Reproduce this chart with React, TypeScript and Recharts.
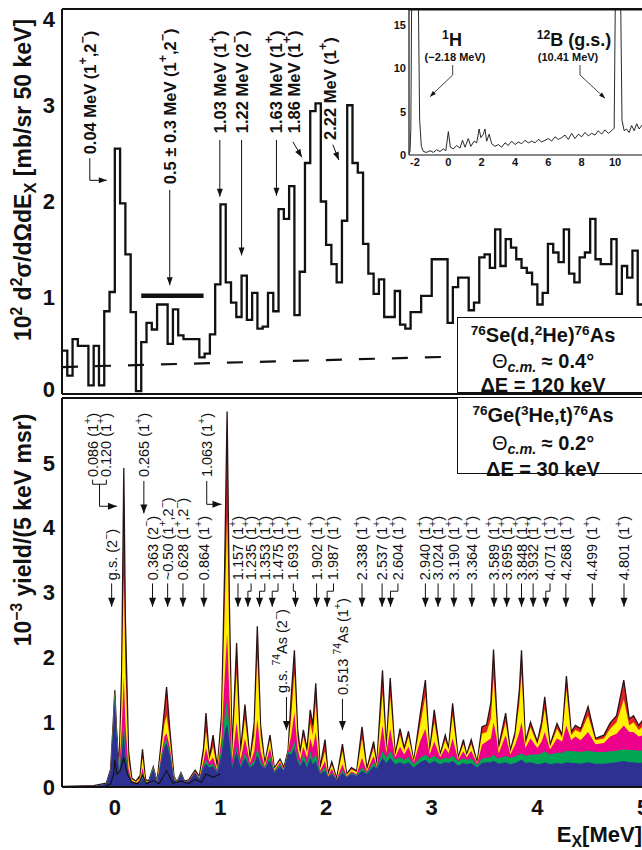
import React from "react";
import {
  ComposedChart,
  LineChart,
  Line,
  Area,
  XAxis,
  YAxis,
  ReferenceLine,
  ReferenceDot,
} from "recharts";

const FONT = "'Liberation Sans', Arial, Helvetica, sans-serif";
const INK = "#111";

// ---------- upper panel: 76Se(d,2He)76As, 50 keV bins starting at -0.5 MeV
const binStart = -0.5;
const binWidth = 0.05;
const dheCounts = [
  0.45, 0.19, 0.57, 0.5, 0.5, 0.09, 0.5, 0.09, 0.86, 1.06,
  2.55, 1.98, 1.45, 0.85, 0.03, 0.54, 0.74, 0.67, 0.93, 0.93,
  0.52, 0.88, 0.61, 0.57, 0.57, 0.57, 0.38, 0.42, 0.62, 1.14,
  1.97, 1.16, 0.95, 0.8, 1.23, 0.77, 1.05, 0.68, 0.7, 1.05,
  0.86, 1.92, 1.82, 2.16, 0.82, 1.27, 2.4, 2.94, 3.02, 2.0,
  1.55, 1.35, 1.16, 1.8, 3.0, 2.4, 2.3, 1.56, 1.25, 1.04,
  1.19, 0.8, 0.8, 1.07, 0.72, 0.68, 0.85, 0.85, 1.02, 1.02,
  1.4, 1.4, 1.4, 0.74, 1.11, 1.21, 1.21, 0.87, 0.95, 1.42,
  1.45, 1.31, 1.71, 1.33, 1.61, 1.52, 1.4, 1.31, 1.26, 1.14,
  0.93, 1.05, 1.56, 1.47, 1.37, 1.71, 1.25, 1.16, 1.42, 1.47,
  1.82, 1.4, 1.35, 1.35, 1.61, 1.04, 1.33, 1.21, 1.49, 0.93,
];
const bgEnergy = [-0.5, 5.0];
const bgLevel = [0.28, 0.44];
const broadEnergy = [0.25, 0.84];
const broadLevel = [1.02, 1.02];

// ---------- inset: wide-range (d,2He) spectrum
const insetEnergy = [
  -2.36, -2.3, -2.25, -2.2, -1.8, -1.72, -1.62, -1.5, -1.3, -1.1,
  -0.9, -0.7, -0.5, -0.3, -0.15, 0, 0.12, 0.3, 0.5, 0.7,
  0.85, 1, 1.2, 1.35, 1.55, 1.7, 1.85, 1.95, 2.1, 2.2,
  2.3, 2.45, 2.6, 2.8, 3, 3.2, 3.4, 3.6, 3.8, 4,
  4.2, 4.4, 4.6, 4.8, 5, 5.2, 5.4, 5.6, 5.8, 6,
  6.2, 6.4, 6.6, 6.8, 7, 7.2, 7.4, 7.6, 7.8, 8,
  8.2, 8.4, 8.6, 8.8, 9, 9.2, 9.4, 9.6, 9.8, 9.95,
  10.02, 10.34, 10.42, 10.55, 10.7, 10.85, 11, 11.15, 11.3, 11.45,
  11.6, 11.75,
];
const insetCounts = [
  0.2, 0.4, 3, 18, 18, 4, 1.0, 0.4, 0.3, 0.5,
  0.3, 0.6, 0.4, 0.7, 0.5, 2.7, 0.9, 0.7, 1.1, 0.8,
  1.7, 0.9, 1.9, 1.0, 1.6, 1.4, 3.0, 2.0, 2.4, 3.0,
  1.6, 2.4, 1.3, 1.0, 1.2, 0.9, 1.4, 1.1, 1.6, 1.2,
  1.5, 1.3, 1.7, 1.4, 1.6, 1.4, 1.8, 1.5, 1.7, 1.9,
  1.6, 2.1, 1.8, 2.0, 2.3, 1.8, 2.5, 1.9, 2.4, 2.1,
  2.6, 2.2, 2.5, 2.3, 2.8, 2.4, 2.9, 2.5, 2.8, 3.1,
  18, 18, 4, 2.8, 3.0, 2.6, 3.4, 2.8, 3.6, 3.0,
  3.4, 3.1,
];

// ---------- lower panel: 76Ge(3He,t)76As, cumulative tops of the coloured layers
const tritonEnergy = [
  -0.5, -0.2, -0.08, -0.04, -0.015, 0, 0.015, 0.04, 0.065, 0.085,
  0.1, 0.13, 0.16, 0.2, 0.24, 0.262, 0.29, 0.32, 0.364, 0.4,
  0.44, 0.47, 0.49, 0.52, 0.56, 0.59, 0.626, 0.66, 0.7, 0.76,
  0.8, 0.84, 0.863, 0.895, 0.93, 0.97, 1.01, 1.04, 1.063, 1.085,
  1.11, 1.153, 1.19, 1.232, 1.28, 1.32, 1.349, 1.38, 1.42, 1.469,
  1.51, 1.564, 1.6, 1.64, 1.67, 1.7, 1.73, 1.755, 1.785, 1.82,
  1.85, 1.875, 1.902, 1.943, 1.99, 2.02, 2.054, 2.1, 2.155, 2.195,
  2.24, 2.29, 2.34, 2.386, 2.45, 2.48, 2.534, 2.57, 2.607, 2.654,
  2.7, 2.74, 2.78, 2.83, 2.89, 2.94, 2.98, 3.024, 3.08, 3.128,
  3.16, 3.198, 3.25, 3.3, 3.33, 3.374, 3.43, 3.476, 3.52, 3.56,
  3.585, 3.61, 3.633, 3.7, 3.744, 3.79, 3.83, 3.85, 3.887, 3.935,
  4.0, 4.04, 4.07, 4.12, 4.186, 4.234, 4.275, 4.32, 4.36, 4.41,
  4.48, 4.55, 4.63, 4.69, 4.75, 4.818, 4.87, 4.91, 4.96, 5.05,
];
const blueTop = [
  0, 0.01, 0.05, 0.25, 0.95, 1.36, 0.85, 0.22, 0.5, 0.85,
  0.5, 0.18, 0.08, 0.06, 0.07, 0.14, 0.06, 0.08, 0.28, 0.06,
  0.4, 0.62, 0.67, 0.5, 0.12, 0.07, 0.21, 0.08, 0.09, 0.22,
  0.12, 0.3, 0.36, 0.3, 0.32, 0.22, 0.5, 0.85, 0.98, 0.7,
  0.3, 0.55, 0.3, 0.45, 0.3, 0.35, 0.5, 0.35, 0.28, 0.42,
  0.22, 0.32, 0.25, 0.52, 0.5, 0.6, 0.4, 0.32, 0.42, 0.3,
  0.45, 0.35, 0.4, 0.2, 0.25, 0.15, 0.2, 0.11, 0.22, 0.15,
  0.2, 0.17, 0.25, 0.2, 0.32, 0.28, 0.45, 0.37, 0.45, 0.35,
  0.38, 0.35, 0.38, 0.3, 0.38, 0.42, 0.36, 0.4, 0.35, 0.38,
  0.37, 0.4, 0.33, 0.37, 0.35, 0.37, 0.3, 0.37, 0.38, 0.38,
  0.4, 0.38, 0.36, 0.38, 0.35, 0.37, 0.4, 0.42, 0.37, 0.38,
  0.35, 0.36, 0.38, 0.35, 0.37, 0.36, 0.38, 0.37, 0.37, 0.36,
  0.38, 0.36, 0.36, 0.37, 0.38, 0.4, 0.38, 0.38, 0.37, 0.38,
];
const greenTop = [
  0, 0.01, 0.05, 0.26, 1.0, 1.47, 0.9, 0.24, 0.6, 1.0,
  0.6, 0.2, 0.09, 0.06, 0.08, 0.2, 0.07, 0.08, 0.31, 0.06,
  0.44, 0.68, 0.73, 0.55, 0.13, 0.07, 0.22, 0.08, 0.09, 0.22,
  0.13, 0.33, 0.42, 0.33, 0.36, 0.24, 0.6, 1.1, 1.34, 0.9,
  0.34, 0.62, 0.34, 0.52, 0.33, 0.4, 0.6, 0.4, 0.3, 0.48,
  0.24, 0.35, 0.26, 0.54, 0.55, 0.7, 0.45, 0.35, 0.5, 0.36,
  0.55, 0.42, 0.52, 0.22, 0.3, 0.16, 0.22, 0.11, 0.26, 0.16,
  0.22, 0.18, 0.3, 0.22, 0.38, 0.3, 0.55, 0.45, 0.55, 0.42,
  0.46, 0.42, 0.46, 0.35, 0.45, 0.5, 0.44, 0.48, 0.42, 0.45,
  0.44, 0.48, 0.4, 0.44, 0.42, 0.44, 0.34, 0.44, 0.45, 0.46,
  0.5, 0.46, 0.44, 0.48, 0.45, 0.47, 0.5, 0.52, 0.48, 0.5,
  0.5, 0.52, 0.55, 0.5, 0.53, 0.53, 0.56, 0.55, 0.55, 0.54,
  0.56, 0.54, 0.54, 0.55, 0.56, 0.58, 0.57, 0.57, 0.56, 0.57,
];
const pinkTop = [
  0, 0.01, 0.05, 0.26, 1.0, 1.48, 0.9, 0.25, 0.9, 1.7,
  1.0, 0.28, 0.1, 0.07, 0.1, 0.3, 0.08, 0.08, 0.31, 0.07,
  0.5, 0.78, 0.83, 0.62, 0.14, 0.07, 0.22, 0.08, 0.1, 0.23,
  0.14, 0.4, 0.6, 0.38, 0.46, 0.26, 0.75, 1.7, 2.37, 1.4,
  0.42, 1.0, 0.42, 0.75, 0.37, 0.55, 1.05, 0.55, 0.32, 0.6,
  0.26, 0.38, 0.27, 0.55, 0.8, 1.15, 0.6, 0.42, 0.62, 0.45,
  0.75, 0.6, 0.85, 0.25, 0.4, 0.17, 0.28, 0.12, 0.35, 0.17,
  0.24, 0.2, 0.45, 0.24, 0.48, 0.32, 0.95, 0.52, 0.9, 0.46,
  0.62, 0.5, 0.62, 0.38, 0.7, 0.9, 0.5, 0.7, 0.46, 0.6,
  0.52, 0.75, 0.42, 0.55, 0.46, 0.56, 0.36, 0.65, 0.7, 0.75,
  1.0, 0.8, 0.52, 0.8, 0.5, 0.65, 0.85, 1.0, 0.6, 0.75,
  0.6, 0.7, 0.85, 0.58, 0.75, 0.7, 0.95, 0.72, 0.78, 0.72,
  0.85, 0.66, 0.68, 0.78, 0.82, 0.95, 0.85, 0.85, 0.78, 0.82,
];
const yellowTop = [
  0, 0.01, 0.05, 0.26, 1.0, 1.48, 0.9, 0.26, 1.4, 3.25,
  1.8, 0.4, 0.12, 0.08, 0.14, 0.45, 0.1, 0.08, 0.31, 0.08,
  0.6, 0.98, 1.1, 0.75, 0.15, 0.08, 0.22, 0.09, 0.1, 0.24,
  0.15, 0.5, 0.86, 0.42, 0.62, 0.28, 0.95, 2.7, 4.17, 2.2,
  0.5, 1.75, 0.5, 1.05, 0.4, 0.8, 2.0, 0.8, 0.35, 0.72,
  0.28, 0.41, 0.28, 0.55, 1.1, 1.75, 0.75, 0.5, 0.78, 0.52,
  0.98, 0.8, 1.3, 0.28, 0.55, 0.19, 0.34, 0.12, 0.55, 0.19,
  0.27, 0.23, 0.75, 0.26, 0.6, 0.34, 1.45, 0.57, 1.4, 0.49,
  0.8, 0.56, 0.78, 0.4, 0.95, 1.4, 0.54, 1.0, 0.49, 0.72,
  0.58, 1.1, 0.44, 0.66, 0.49, 0.66, 0.37, 0.82, 0.85, 1.05,
  1.7, 1.1, 0.58, 1.0, 0.54, 0.78, 1.3, 1.75, 0.66, 0.92,
  0.66, 0.9, 1.2, 0.62, 0.9, 0.76, 1.5, 0.8, 0.88, 0.84,
  1.1, 0.72, 0.75, 0.9, 1.0, 1.35, 0.95, 1.0, 0.88, 1.0,
];
const totalTop = [
  0.01, 0.02, 0.06, 0.27, 1.0, 1.49, 0.92, 0.27, 1.8, 4.92,
  2.6, 0.55, 0.14, 0.09, 0.18, 0.58, 0.12, 0.09, 0.31, 0.08,
  0.7, 1.2, 1.54, 0.9, 0.16, 0.08, 0.22, 0.09, 0.11, 0.26,
  0.16, 0.6, 1.14, 0.45, 0.8, 0.3, 1.1, 3.4, 5.79, 2.8,
  0.55, 2.22, 0.55, 1.27, 0.42, 1.0, 2.48, 0.95, 0.36, 0.8,
  0.29, 0.43, 0.3, 0.56, 1.4, 2.11, 0.9, 0.55, 0.88, 0.58,
  1.19, 0.95, 1.6, 0.3, 0.73, 0.2, 0.39, 0.13, 0.66, 0.2,
  0.3, 0.25, 0.93, 0.28, 0.7, 0.35, 1.8, 0.6, 1.68, 0.5,
  0.9, 0.6, 0.86, 0.4, 1.11, 1.65, 0.55, 1.19, 0.5, 0.8,
  0.6, 1.29, 0.45, 0.73, 0.5, 0.73, 0.38, 0.93, 0.96, 1.3,
  2.12, 1.3, 0.62, 1.14, 0.56, 0.85, 1.5, 2.11, 0.7, 1.0,
  0.7, 1.0, 1.39, 0.65, 0.98, 0.8, 1.71, 0.85, 0.95, 0.9,
  1.24, 0.75, 0.8, 0.99, 1.1, 1.65, 1.05, 1.1, 0.95, 1.15,
];
// thin black comparison spectrum drawn over the blue layer at low Ex
const innerEnergy = [-0.1, -0.04, -0.01, 0, 0.02, 0.05, 0.085, 0.12, 0.16, 0.22, 0.262, 0.3, 0.364, 0.42, 0.49, 0.55, 0.626, 0.7, 0.76, 0.82, 0.863, 0.93, 1.0];
const innerLevel = [0, 0.05, 0.2, 0.42, 0.2, 0.25, 0.45, 0.2, 0.07, 0.05, 0.18, 0.05, 0.1, 0.05, 0.25, 0.06, 0.09, 0.05, 0.12, 0.07, 0.2, 0.15, 0.2];

// ---------- ticks
const upperXMinor = [-0.4, -0.2, 0, 0.2, 0.4, 0.6, 0.8, 1, 1.2, 1.4, 1.6, 1.8, 2, 2.2, 2.4, 2.6, 2.8, 3, 3.2, 3.4, 3.6, 3.8, 4, 4.2, 4.4, 4.6, 4.8];
const upperYMajor = [0, 1, 2, 3, 4];
const upperYMinor = [0.2, 0.4, 0.6, 0.8, 1.2, 1.4, 1.6, 1.8, 2.2, 2.4, 2.6, 2.8, 3.2, 3.4, 3.6, 3.8];
const lowerXLabels = [0, 1, 2, 3, 4, 5];
const lowerXMinor = [-0.5, 0, 0.5, 1, 1.5, 2, 2.5, 3, 3.5, 4, 4.5];
const lowerYMajor = [0, 1, 2, 3, 4, 5];
const insetXLabels = [-2, 0, 2, 4, 6, 8, 10];
const insetXMinor = [-2, -1.5, -1, -0.5, 0, 0.5, 1, 1.5, 2, 2.5, 3, 3.5, 4, 4.5, 5, 5.5, 6, 6.5, 7, 7.5, 8, 8.5, 9, 9.5, 10, 10.5, 11, 11.5];
const insetYTicks = [0, 5, 10, 15];

// ---------- annotations (text with ^sup^ markers, anchored at the text's lower end)
const upperLabels = [
  { text: "0.04 MeV (1^+^,2^−^)", e: -0.237, v: 2.49 },
  { text: "0.5 ± 0.3 MeV (1^+^,2^−^)", e: 0.52, v: 2.18 },
  { text: "1.03 MeV (1^+^)", e: 0.994, v: 2.71 },
  { text: "1.22 MeV (2^−^)", e: 1.2, v: 2.71 },
  { text: "1.63 MeV (1^+^)", e: 1.53, v: 2.71 },
  { text: "1.86 MeV (1^+^)", e: 1.7, v: 2.71 },
  { text: "2.22 MeV (1^+^)", e: 2.036, v: 2.64 },
];
const upperArrows = [
  { pts: [[-0.237, 2.45], [-0.237, 2.22], [-0.076, 2.22]], dir: 0 },
  { pts: [[0.52, 2.12], [0.52, 1.13]], dir: 90 },
  { pts: [[0.994, 2.64], [0.994, 2.05]], dir: 90 },
  { pts: [[1.2, 2.64], [1.2, 1.44]], dir: 90 },
  { pts: [[1.53, 2.64], [1.53, 2.06]], dir: 90 },
  { pts: [[1.686, 2.62], [1.771, 2.46]], dir: 59 },
  { pts: [[2.064, 2.59], [2.121, 2.43]], dir: 68 },
];

const levelLabels = [
  { text: "g.s. (2^−^)", te: -0.03, ae: -0.03 },
  { text: "0.363 (2^−^)", te: 0.357, ae: 0.357 },
  { text: "~0.50 (1^+^,2^−^)", te: 0.5, ae: 0.5 },
  { text: "0.628 (1^+^,2^−^)", te: 0.645, ae: 0.645 },
  { text: "0.864 (1^+^)", te: 0.843, ae: 0.843 },
  { text: "1.157 (1^+^)", te: 1.166, ae: 1.166 },
  { text: "1.235 (1^+^)", te: 1.29, ae: 1.26 },
  { text: "1.353 (1^+^)", te: 1.42, ae: 1.37 },
  { text: "1.475 (1^+^)", te: 1.545, ae: 1.49 },
  { text: "1.693 (1^+^)", te: 1.69, ae: 1.71 },
  { text: "1.902 (1^+^)", te: 1.91, ae: 1.91 },
  { text: "1.987 (1^+^)", te: 2.07, ae: 2.01 },
  { text: "2.338 (1^+^)", te: 2.34, ae: 2.34 },
  { text: "2.537 (1^+^)", te: 2.53, ae: 2.53 },
  { text: "2.604 (1^+^)", te: 2.68, ae: 2.61 },
  { text: "2.940 (1^+^)", te: 2.94, ae: 2.94 },
  { text: "3.024 (1^+^)", te: 3.06, ae: 3.06 },
  { text: "3.190 (1^+^)", te: 3.21, ae: 3.21 },
  { text: "3.364 (1^+^)", te: 3.38, ae: 3.38 },
  { text: "3.589 (1^+^)", te: 3.59, ae: 3.59 },
  { text: "3.695 (1^+^)", te: 3.71, ae: 3.71 },
  { text: "3.848 (1^+^)", te: 3.85, ae: 3.85 },
  { text: "3.932 (1^+^)", te: 3.96, ae: 3.96 },
  { text: "4.071 (1^+^)", te: 4.12, ae: 4.08 },
  { text: "4.268 (1^+^)", te: 4.27, ae: 4.27 },
  { text: "4.499 (1^+^)", te: 4.52, ae: 4.52 },
  { text: "4.801 (1^+^)", te: 4.82, ae: 4.82 },
];
const highLabels = [
  { text: "0.086 (1^+^)", e: -0.21, v: 4.78 },
  { text: "0.120 (1^+^)", e: -0.08, v: 4.78 },
  { text: "0.265 (1^+^)", e: 0.275, v: 4.78 },
  { text: "1.063 (1^+^)", e: 0.87, v: 4.78 },
  { text: "g.s. ^74^As (2^−^)", e: 1.58, v: 1.45 },
  { text: "0.513 ^74^As (1^+^)", e: 2.164, v: 1.42 },
];
const lowerExtraArrows = [
  { pts: [[-0.21, 4.74], [-0.21, 4.67], [-0.08, 4.67], [-0.08, 4.74]], dir: -1 },
  { pts: [[-0.145, 4.67], [-0.145, 4.33], [0.02, 4.33]], dir: 0 },
  { pts: [[0.275, 4.72], [0.275, 4.22]], dir: 90 },
  { pts: [[0.87, 4.72], [0.87, 4.36], [1.01, 4.36]], dir: 0 },
  { pts: [[1.625, 1.39], [1.625, 0.88]], dir: 90 },
  { pts: [[2.155, 1.36], [2.155, 0.88]], dir: 90 },
];

const insetArrows = [
  { pts: [[0.262, 10.38], [0.262, 9.23], [-1.1, 6.73]], dir: 136 },
  { pts: [[7.9, 10.38], [7.9, 9.23], [9.4, 6.54]], dir: 43 },
];

// ---------- tables built from the arrays
const histRows = dheCounts.map((v, i) => ({ e: +(binStart + i * binWidth).toFixed(3), v }));
histRows.push({ e: +(binStart + dheCounts.length * binWidth).toFixed(3), v: dheCounts[dheCounts.length - 1] });
const bgRows = bgEnergy.map((e, i) => ({ e, v: bgLevel[i] }));
const broadRows = broadEnergy.map((e, i) => ({ e, v: broadLevel[i] }));
const insetRows = insetEnergy.map((e, i) => ({ e, v: insetCounts[i] }));
const innerRows = innerEnergy.map((e, i) => ({ e, v: innerLevel[i] }));
const tritonRows = tritonEnergy.map((e, i) => ({
  e,
  b: blueTop[i],
  g: greenTop[i],
  m: pinkTop[i],
  y: yellowTop[i],
  t: totalTop[i],
}));

const MID_TEXT = 3.19;
const MID_TOP = 3.14;
const MID_JOG = 3.02;
const MID_TIP = 2.78;
const levelArrows = levelLabels.map((l) => ({
  pts:
    l.te === l.ae
      ? [[l.te, MID_TOP], [l.ae, MID_TIP]]
      : [[l.te, MID_TOP], [l.te, MID_JOG], [l.ae, MID_JOG], [l.ae, MID_TIP]],
  dir: 90,
}));

// ---------- helpers
function richParts(s: string, fs: number, supScale: number) {
  const shift = fs * 0.42;
  const parts = s.split("^");
  let up = false;
  return parts.map((p, i) => {
    const sup = i % 2 === 1;
    let dy = 0;
    if (sup && !up) {
      dy = -shift;
      up = true;
    } else if (!sup && up) {
      dy = shift;
      up = false;
    }
    return (
      <tspan key={i} dy={dy} fontSize={sup ? fs * supScale : fs}>
        {p}
      </tspan>
    );
  });
}

const vText = (text: string, fs: number, weight: string, supScale: number) =>
  function VText(props: any) {
    const { cx, cy } = props;
    return (
      <text
        x={cx}
        y={cy}
        transform={`rotate(-90 ${cx} ${cy})`}
        fontFamily={FONT}
        fontSize={fs}
        fontWeight={weight}
        fill={INK}
        dominantBaseline="central"
      >
        {richParts(text, fs, supScale)}
      </text>
    );
  };

const headShape = (dir: number, len: number, half: number) =>
  function Head(props: any) {
    if (dir < 0) return <g />;
    return (
      <polygon
        points={`0,0 ${-len},${-half} ${-len},${half}`}
        transform={`translate(${props.cx} ${props.cy}) rotate(${dir})`}
        fill={INK}
      />
    );
  };

function arrowEls(list: any[], key: string, len: number, half: number, sw: number) {
  const out: any[] = [];
  list.forEach((a, i) => {
    for (let k = 0; k < a.pts.length - 1; k++) {
      out.push(
        <ReferenceLine
          key={`${key}l${i}_${k}`}
          segment={[
            { x: a.pts[k][0], y: a.pts[k][1] },
            { x: a.pts[k + 1][0], y: a.pts[k + 1][1] },
          ]}
          stroke={INK}
          strokeWidth={sw}
          ifOverflow="visible"
        />
      );
    }
    const tip = a.pts[a.pts.length - 1];
    out.push(
      <ReferenceDot
        key={`${key}h${i}`}
        x={tip[0]}
        y={tip[1]}
        r={1}
        ifOverflow="visible"
        shape={headShape(a.dir, len, half)}
      />
    );
  });
  return out;
}

function labelEls(list: any[], key: string, fs: number, weight: string, supScale: number) {
  return list.map((l, i) => (
    <ReferenceDot
      key={`${key}${i}`}
      x={l.e}
      y={l.v}
      r={1}
      ifOverflow="visible"
      shape={vText(l.text, fs, weight, supScale)}
    />
  ));
}

// edge labels of the upper panel sit inside the frame, as in the original
const UpperYTick = (props: any) => {
  const { x, y, payload } = props;
  const shift = payload.value === 4 ? 10 : payload.value === 0 ? -5 : 0;
  return (
    <text x={x} y={y + shift} textAnchor="end" dominantBaseline="central" fontFamily={FONT} fontSize={22}
      fontWeight="bold" fill={INK}>
      {payload.value}
    </text>
  );
};

const Sup = ({ children }: any) => (
  <span style={{ fontSize: "0.68em", position: "relative", top: "-0.55em" }}>{children}</span>
);
const Sub = ({ children, italic }: any) => (
  <span style={{ fontSize: "0.72em", position: "relative", top: "0.3em", fontStyle: italic ? "italic" : "normal" }}>
    {children}
  </span>
);

const axisLine = { stroke: INK, strokeWidth: 2 };
const tickLine = { stroke: INK, strokeWidth: 1.5 };
const thinAxis = { stroke: INK, strokeWidth: 1.2 };
const thinTick = { stroke: INK, strokeWidth: 1 };
const bigTick = { fontSize: 22, fontWeight: "bold", fill: INK, fontFamily: FONT };
const smallTick = { fontSize: 11, fontWeight: "bold", fill: INK, fontFamily: FONT };

export default function App() {
  return (
    <div
      style={{
        position: "absolute",
        left: 0,
        top: 0,
        width: 642,
        height: 850,
        overflow: "hidden",
        background: "#fff",
        fontFamily: FONT,
        color: INK,
      }}
    >
      {/* upper panel */}
      <div style={{ position: "absolute", left: 0, top: 0 }}>
        <ComposedChart width={660} height={405} margin={{ top: 9, right: 17, left: 12, bottom: 11 }}>
          <XAxis dataKey="e" type="number" domain={[-0.5, 5]} allowDataOverflow ticks={upperXMinor} interval={0}
            mirror height={1} tick={false} tickSize={6} axisLine={axisLine} tickLine={tickLine} />
          <XAxis xAxisId="top" type="number" domain={[-0.5, 5]} allowDataOverflow ticks={upperXMinor} interval={0}
            orientation="top" mirror height={1} tick={false} tickSize={6} axisLine={axisLine} tickLine={tickLine} />
          <YAxis type="number" domain={[0, 4]} allowDataOverflow ticks={upperYMajor} interval={0} width={50}
            tickSize={0} tickMargin={7} axisLine={false} tickLine={false} tick={<UpperYTick />} />
          <YAxis yAxisId="lmaj" type="number" domain={[0, 4]} ticks={upperYMajor} interval={0} mirror width={1}
            tick={false} tickSize={13} axisLine={axisLine} tickLine={tickLine} />
          <YAxis yAxisId="lmin" type="number" domain={[0, 4]} ticks={upperYMinor} interval={0} mirror width={1}
            tick={false} tickSize={7} axisLine={false} tickLine={tickLine} />
          <YAxis yAxisId="rmaj" type="number" domain={[0, 4]} ticks={upperYMajor} interval={0} orientation="right"
            mirror width={1} tick={false} tickSize={13} axisLine={axisLine} tickLine={tickLine} />
          <YAxis yAxisId="rmin" type="number" domain={[0, 4]} ticks={upperYMinor} interval={0} orientation="right"
            mirror width={1} tick={false} tickSize={7} axisLine={false} tickLine={tickLine} />
          <Line data={bgRows} dataKey="v" type="linear" stroke={INK} strokeWidth={2.2} strokeDasharray="16 17"
            dot={false} isAnimationActive={false} />
          <Line data={broadRows} dataKey="v" type="linear" stroke={INK} strokeWidth={4.5} dot={false}
            isAnimationActive={false} />
          <Line data={histRows} dataKey="v" type="stepAfter" stroke={INK} strokeWidth={2.3} dot={false}
            strokeLinejoin="miter" isAnimationActive={false} />
          {arrowEls(upperArrows, "ua", 8, 3, 1)}
          {labelEls(upperLabels, "ul", 16.5, "bold", 0.75)}
        </ComposedChart>
      </div>

      {/* lower panel */}
      <div style={{ position: "absolute", left: 0, top: 390 }}>
        <ComposedChart width={660} height={460} margin={{ top: 8, right: 17, left: 12, bottom: 23 }}>
          <XAxis dataKey="e" type="number" domain={[-0.5, 5]} allowDataOverflow ticks={lowerXLabels} interval={0}
            height={40} tickSize={0} tickMargin={12} axisLine={false} tickLine={false} tick={bigTick} />
          <XAxis xAxisId="bt" type="number" domain={[-0.5, 5]} ticks={lowerXMinor} interval={0} mirror height={1}
            tick={false} tickSize={8} axisLine={axisLine} tickLine={tickLine} />
          <XAxis xAxisId="tt" type="number" domain={[-0.5, 5]} ticks={lowerXMinor} interval={0} orientation="top"
            mirror height={1} tick={false} tickSize={8} axisLine={axisLine} tickLine={tickLine} />
          <YAxis type="number" domain={[0, 6]} allowDataOverflow ticks={lowerYMajor} interval={0} width={50}
            tickSize={0} tickMargin={7} axisLine={false} tickLine={false} tick={bigTick} />
          <YAxis yAxisId="lmaj" type="number" domain={[0, 6]} ticks={lowerYMajor} interval={0} mirror width={1}
            tick={false} tickSize={11} axisLine={axisLine} tickLine={tickLine} />
          <YAxis yAxisId="rmaj" type="number" domain={[0, 6]} ticks={lowerYMajor} interval={0} orientation="right"
            mirror width={1} tick={false} tickSize={8} axisLine={axisLine} tickLine={tickLine} />
          <Area data={tritonRows} dataKey="t" type="linear" fill="#e32227" fillOpacity={1} stroke="#2a1212"
            strokeWidth={1.3} isAnimationActive={false} />
          <Area data={tritonRows} dataKey="y" type="linear" fill="#fff200" fillOpacity={1} stroke="none"
            isAnimationActive={false} />
          <Area data={tritonRows} dataKey="m" type="linear" fill="#ec008c" fillOpacity={1} stroke="none"
            isAnimationActive={false} />
          <Area data={tritonRows} dataKey="g" type="linear" fill="#00a651" fillOpacity={1} stroke="none"
            isAnimationActive={false} />
          <Area data={tritonRows} dataKey="b" type="linear" fill="#2e3192" fillOpacity={1} stroke="none"
            isAnimationActive={false} />
          <Line data={innerRows} dataKey="v" type="linear" stroke={INK} strokeWidth={1.1} dot={false}
            isAnimationActive={false} />
          {arrowEls(levelArrows, "la", 9, 3.5, 1)}
          {arrowEls(lowerExtraArrows, "lx", 9, 3.5, 1)}
          {labelEls(levelLabels.map((l) => ({ text: l.text, e: l.te, v: MID_TEXT })), "ll", 14.5, "normal", 0.72)}
          {labelEls(highLabels, "hl", 14.5, "normal", 0.72)}
        </ComposedChart>
      </div>

      {/* inset background and chart */}
      <div style={{ position: "absolute", left: 409, top: 10, width: 240, height: 145, background: "#fff" }} />
      <div style={{ position: "absolute", left: 380, top: 0 }}>
        <LineChart width={270} height={175} margin={{ top: 10, right: 7, left: 5, bottom: 2 }}>
          <XAxis dataKey="e" type="number" domain={[-2.36, 11.68]} allowDataOverflow ticks={insetXLabels} interval={0}
            height={18} tickSize={0} tickMargin={3} axisLine={false} tickLine={false} tick={smallTick} />
          <XAxis xAxisId="bt" type="number" domain={[-2.36, 11.68]} ticks={insetXMinor} interval={0} mirror height={1}
            tick={false} tickSize={3} axisLine={thinAxis} tickLine={thinTick} />
          <XAxis xAxisId="tt" type="number" domain={[-2.36, 11.68]} ticks={insetXMinor} interval={0} orientation="top"
            mirror height={1} tick={false} tickSize={3} axisLine={thinAxis} tickLine={thinTick} />
          <YAxis type="number" domain={[0, 16.73]} allowDataOverflow ticks={insetYTicks} interval={0} width={24}
            tickSize={0} tickMargin={3} axisLine={false} tickLine={false} tick={smallTick} />
          <YAxis yAxisId="lm" type="number" domain={[0, 16.73]} ticks={insetYTicks} interval={0} mirror width={1}
            tick={false} tickSize={5} axisLine={thinAxis} tickLine={thinTick} />
          <YAxis yAxisId="rm" type="number" domain={[0, 16.73]} ticks={insetYTicks} interval={0} orientation="right"
            mirror width={1} tick={false} tickSize={5} axisLine={thinAxis} tickLine={thinTick} />
          <Line data={insetRows} dataKey="v" type="linear" stroke={INK} strokeWidth={0.9} dot={false}
            isAnimationActive={false} />
          {arrowEls(insetArrows, "ia", 6, 2.2, 0.8)}
        </LineChart>
      </div>

      {/* inset labels */}
      <div style={{ position: "absolute", left: 452, top: 40, transform: "translate(-50%,-50%)", fontWeight: "bold", fontSize: 18, whiteSpace: "nowrap" }}>
        <Sup>1</Sup>H
      </div>
      <div style={{ position: "absolute", left: 455, top: 57, transform: "translate(-50%,-50%)", fontWeight: "bold", fontSize: 11, whiteSpace: "nowrap" }}>
        (−2.18 MeV)
      </div>
      <div style={{ position: "absolute", left: 574, top: 40, transform: "translate(-50%,-50%)", fontWeight: "bold", fontSize: 18, whiteSpace: "nowrap" }}>
        <Sup>12</Sup>B (g.s.)
      </div>
      <div style={{ position: "absolute", left: 568, top: 57, transform: "translate(-50%,-50%)", fontWeight: "bold", fontSize: 11, whiteSpace: "nowrap" }}>
        (10.41 MeV)
      </div>

      {/* reaction boxes */}
      <div style={{ position: "absolute", left: 457, top: 317, width: 200, height: 76, background: "#fff", border: `1.5px solid ${INK}`, boxSizing: "border-box" }}>
        <div style={{ width: 170, textAlign: "center", fontWeight: "bold", fontSize: 20, lineHeight: "22.5px", paddingTop: 6, whiteSpace: "nowrap" }}>
          <div><Sup>76</Sup>Se(d,<Sup>2</Sup>He)<Sup>76</Sup>As</div>
          <div><span style={{ fontWeight: "normal" }}>Θ</span><Sub italic>c.m.</Sub> ≈ 0.4°</div>
          <div>ΔE = 120 keV</div>
        </div>
      </div>
      <div style={{ position: "absolute", left: 457, top: 397, width: 200, height: 77, background: "#fff", border: `1.5px solid ${INK}`, boxSizing: "border-box" }}>
        <div style={{ width: 170, textAlign: "center", fontWeight: "bold", fontSize: 20, lineHeight: "24.5px", paddingTop: 5, whiteSpace: "nowrap" }}>
          <div><Sup>76</Sup>Ge(<Sup>3</Sup>He,t)<Sup>76</Sup>As</div>
          <div><span style={{ fontWeight: "normal" }}>Θ</span><Sub italic>c.m.</Sub> ≈ 0.2°</div>
          <div>ΔE = 30 keV</div>
        </div>
      </div>

      {/* axis titles */}
      <div style={{ position: "absolute", left: 23, top: 180, transform: "translate(-50%,-50%) rotate(-90deg)", fontWeight: "bold", fontSize: 23, whiteSpace: "nowrap" }}>
        10<Sup>2</Sup> d<Sup>2</Sup>σ/dΩdE<Sub>X</Sub> [mb/sr 50 keV]
      </div>
      <div style={{ position: "absolute", left: 23, top: 530, transform: "translate(-50%,-50%) rotate(-90deg)", fontWeight: "bold", fontSize: 23, whiteSpace: "nowrap" }}>
        10<Sup>−3</Sup> yield/(5 keV msr)
      </div>
      <div style={{ position: "absolute", right: 0, top: 822, fontWeight: "bold", fontSize: 22, whiteSpace: "nowrap" }}>
        E<Sub>X</Sub>[MeV]
      </div>
    </div>
  );
}
